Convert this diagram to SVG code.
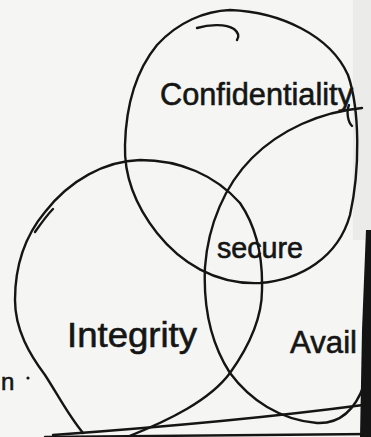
<svg xmlns="http://www.w3.org/2000/svg" width="371" height="437" viewBox="0 0 371 437">
<style>
.ln{fill:none;stroke:#151515;stroke-width:2.4;stroke-linecap:round;stroke-linejoin:round}
.lbl{font-family:"Liberation Sans","DejaVu Sans",sans-serif;fill:#151515;stroke:#151515;stroke-width:0.6}
</style>
<rect x="0" y="0" width="371" height="437" fill="#f5f5f3"/>
<rect x="353" y="0" width="18" height="240" fill="#ebebea"/>
<g id="connectors">
<path class="ln" d="M53,435 C150,428 250,420 363,405"/>
<path class="ln" d="M45,437 L371,434"/>
</g>
<g id="confidentiality">
<path class="ln" d="M230,10 C280,12 330,35 348,75 C360,110 360,170 350,215 C338,258 300,280 260,283 C215,285 180,262 157,233 C135,205 124,175 125,145 C126,105 135,72 157,45 C178,22 205,11 230,10 Z"/>
<path class="ln" d="M197,28 C210,24 226,24 234,29 C239,33 239,37 237,40"/>
<path class="ln" d="M349,105 C346,112 348,122 352,126"/>
<text class="lbl" x="160" y="105" font-size="32" textLength="193" lengthAdjust="spacingAndGlyphs">Confidentiality</text>
</g>
<g id="secure">
<text class="lbl" x="217" y="258" font-size="29" textLength="86" lengthAdjust="spacingAndGlyphs">secure</text>
</g>
<g id="availability">
<path class="ln" d="M362,108 C320,112 280,130 252,158 C225,185 208,225 205,267 C203,310 212,345 230,373 C250,400 280,420 317,423 C340,424 355,410 364,385 C370,360 372,300 372,250"/>
<text class="lbl" x="290" y="353" font-size="32" textLength="67" lengthAdjust="spacingAndGlyphs">Avail</text>
</g>
<g id="integrity">
<path class="ln" d="M127,437 C170,420 210,400 230,373 C250,345 262,318 262,290 C263,255 255,225 240,203 C215,175 180,160 140,160 C105,161 70,180 45,212 C25,236 15,265 15,300 C15,330 30,355 45,375 C58,395 68,415 83,433"/>
<path class="ln" d="M35,232 C42,222 47,215 53,209"/>
<text class="lbl" x="67" y="347" font-size="35" textLength="130" lengthAdjust="spacingAndGlyphs">Integrity</text>
</g>
<g id="margin">
<text class="lbl" x="1" y="390" font-size="24">n</text>
<circle cx="28" cy="378" r="1.6" fill="#151515"/>
</g>
<path d="M366,230 L371,230 L371,437 L360,437 L362,330 Z" fill="#141414"/>
</svg>
